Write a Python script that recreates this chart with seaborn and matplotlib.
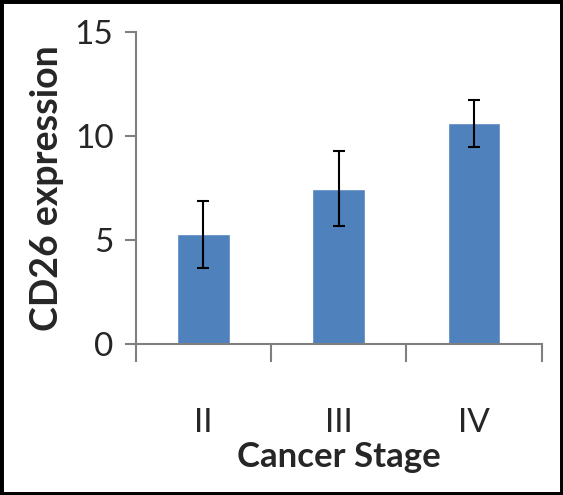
import matplotlib.pyplot as plt
import seaborn as sns
import pandas as pd
from matplotlib.patches import Rectangle

# Data
stages = ['II', 'III', 'IV']
expression = [5.27, 7.48, 10.61]
err = [1.63, 1.80, 1.12]

df = pd.DataFrame({'stage': stages, 'expr': expression})

sns.set_style('white')
plt.rcParams['font.family'] = ['Lato', 'DejaVu Sans']

fig = plt.figure(figsize=(5.63, 4.95), dpi=100)
ax = fig.add_axes([0.241, 0.305, 0.721, 0.63])

sns.barplot(data=df, x='stage', y='expr', color='#4F81BD', saturation=1,
            width=0.39, ax=ax)
ax.errorbar(range(len(stages)), expression, yerr=err, fmt='none',
            ecolor='black', elinewidth=1.5, capsize=4, capthick=1.5)

ax.set_ylim(0, 15)
ax.set_xlim(-0.5, 2.5)
ax.set_yticks([0, 5, 10, 15])
ax.set_xticks([-0.5, 0.5, 1.5, 2.5], minor=True)

# axis styling
for s in ['top', 'right']:
    ax.spines[s].set_visible(False)
for s in ['left', 'bottom']:
    ax.spines[s].set_color('#7f7f7f')
    ax.spines[s].set_linewidth(1.5)

ax.tick_params(axis='y', which='major', direction='out', length=8, width=1.5,
               color='#7f7f7f', left=True, labelsize=24, pad=8)
ax.tick_params(axis='x', which='major', length=0, labelsize=24, pad=46)
ax.tick_params(axis='x', which='minor', direction='out', length=13, width=1.5,
               color='#7f7f7f', bottom=True)

ax.set_xlabel('Cancer Stage', fontsize=25, fontweight='bold', labelpad=2)
ax.set_ylabel('CD26 expression', fontsize=27, fontweight='bold', labelpad=8)

# black picture frame
fig.patches.append(Rectangle((0, 0), 1, 1, transform=fig.transFigure,
                             fill=False, edgecolor='black', linewidth=5))

fig.savefig('out.png', dpi=100)
